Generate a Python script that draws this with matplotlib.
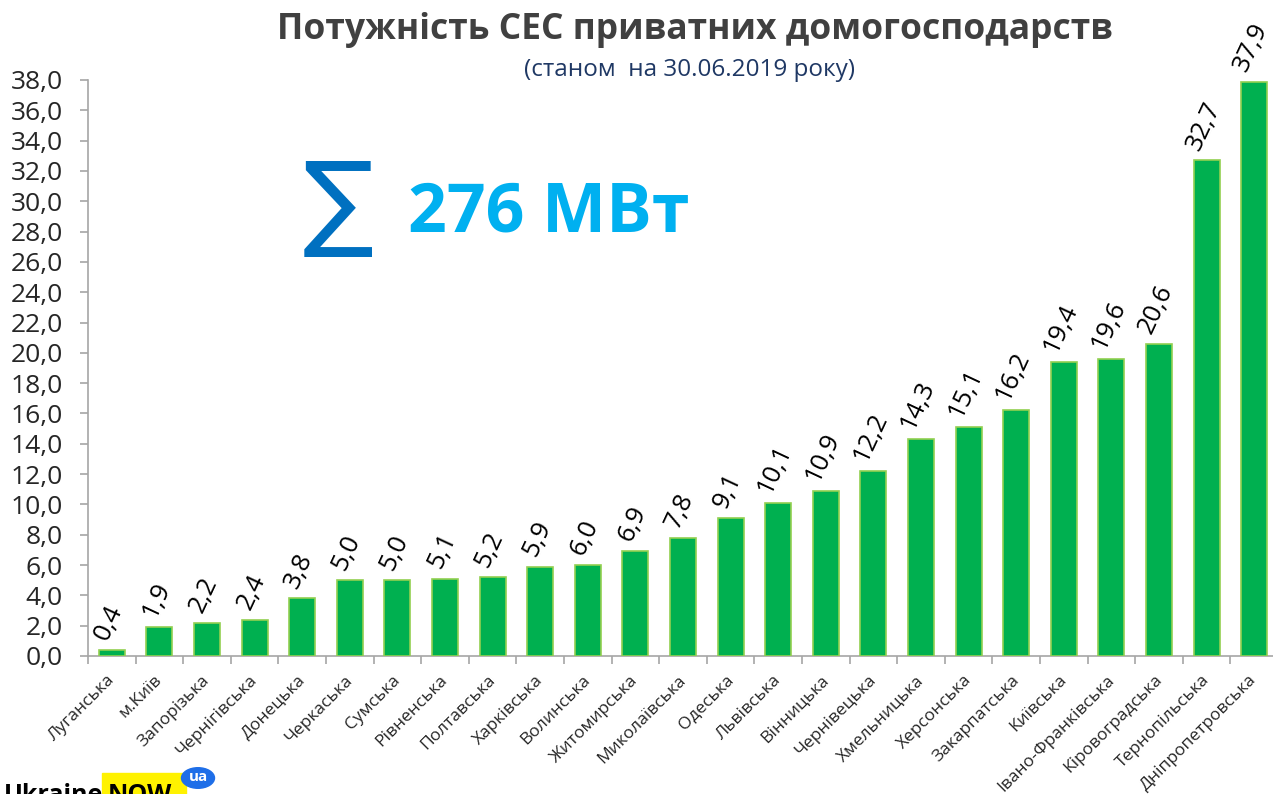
import matplotlib
matplotlib.use("Agg")
import matplotlib.pyplot as plt
import matplotlib.transforms as mtransforms
from matplotlib.patches import Circle, Rectangle
import numpy as np

regions = ["Луганська", "м.Київ", "Запорізька", "Чернігівська", "Донецька", "Черкаська",
           "Сумська", "Рівненська", "Полтавська", "Харківська", "Волинська", "Житомирська",
           "Миколаївська", "Одеська", "Львівська", "Вінницька", "Чернівецька", "Хмельницька",
           "Херсонська", "Закарпатська", "Київська", "Івано-Франківська", "Кіровоградська",
           "Тернопільська", "Дніпропетровська"]
values = [0.4, 1.9, 2.2, 2.4, 3.8, 5.0, 5.0, 5.1, 5.2, 5.9, 6.0, 6.9, 7.8, 9.1, 10.1,
          10.9, 12.2, 14.3, 15.1, 16.2, 19.4, 19.6, 20.6, 32.7, 37.9]
yticks = np.arange(0, 38.1, 2.0)

title = "Потужність СЕС приватних домогосподарств"
subtitle = "(станом  на 30.06.2019 року)"
total_text = "276 МВт"

FONT = ["Open Sans", "DejaVu Sans"]
plt.rcParams['font.family'] = FONT

W, H = 1273, 794
fig = plt.figure(figsize=(W / 100, H / 100), dpi=100)
n = len(values)
step = 47.6
left_px, right_px = 88, 88 + step * n
top_px, bot_px = 80, 656
ax = fig.add_axes([left_px / W, 1 - bot_px / H, (right_px - left_px) / W, (bot_px - top_px) / H])

x = np.arange(n)
ax.bar(x, values, width=0.55, color="#00B050", edgecolor="#92D050", linewidth=1.2, zorder=3)
ax.set_xlim(-0.5, n - 0.5)
ax.set_ylim(0, 38)

for s in ["top", "right"]:
    ax.spines[s].set_visible(False)
for s in ["left", "bottom"]:
    ax.spines[s].set_color("#A6A6A6")
    ax.spines[s].set_linewidth(1.2)

ax.set_yticks(yticks)
ax.set_yticklabels([f"{v:.1f}".replace(".", ",") for v in yticks], fontsize=19, color="#262626")
ax.tick_params(axis="y", direction="out", length=6, color="#A6A6A6", width=1.2, pad=12)

ax.set_xticks(np.arange(-0.5, n, 1.0), minor=False)
ax.set_xticklabels([])
ax.tick_params(axis="x", direction="out", length=6, color="#A6A6A6", width=1.2)

trans = mtransforms.blended_transform_factory(ax.transData, ax.transAxes)
for i, r in enumerate(regions):
    ax.text(i, 0, r, rotation=45, ha="right", va="top", fontsize=12.5, color="#262626",
            transform=mtransforms.offset_copy(trans, fig=fig, x=6, y=-16, units="dots"),
            clip_on=False)

for i, v in enumerate(values):
    ax.text(i, v, f"{v:.1f}".replace(".", ","), rotation=65, ha="center", va="bottom",
            fontsize=18.5, color="#000000",
            transform=mtransforms.offset_copy(ax.transData, fig=fig, x=-3, y=6, units="dots"),
            clip_on=False)

fig.text(695 / W, 1 - 30 / H, title, ha="center", va="center", fontsize=25.5,
         fontweight="bold", color="#404040")
fig.text(690 / W, 1 - 70 / H, subtitle, ha="center", va="center", fontsize=17.5, color="#1F3864")

fig.text(338 / W, 1 - 208 / H, "∑", ha="center", va="center", fontsize=76,
         color="#0070C0", family=["DejaVu Sans"])
fig.text(408 / W, 1 - 214 / H, total_text, ha="left", va="center", fontsize=49,
         fontweight="bold", color="#00B0F0")

# UkraineNOW logo (partially cropped at the bottom edge, as in the reference)
fig.patches.append(Rectangle((102 / W, 0), 84 / W, 21 / H, transform=fig.transFigure,
                             color="#FFF200", zorder=1))
fig.text(4 / W, -8 / H, "Ukraine", ha="left", va="baseline", fontsize=18, fontweight="bold",
         color="#000000", zorder=2)
fig.text(108 / W, -8 / H, "NOW", ha="left", va="baseline", fontsize=18, fontweight="bold",
         color="#000000", zorder=2)
fig.patches.append(Circle((198 / W, 1 - 778 / H), 16.5 / W, transform=fig.transFigure,
                          color="#1E6EE8", zorder=3))
fig.text(198 / W, 1 - 777 / H, "ua", ha="center", va="center", fontsize=11, fontweight="bold",
         color="white", zorder=4)

fig.savefig("out.png", dpi=100)
